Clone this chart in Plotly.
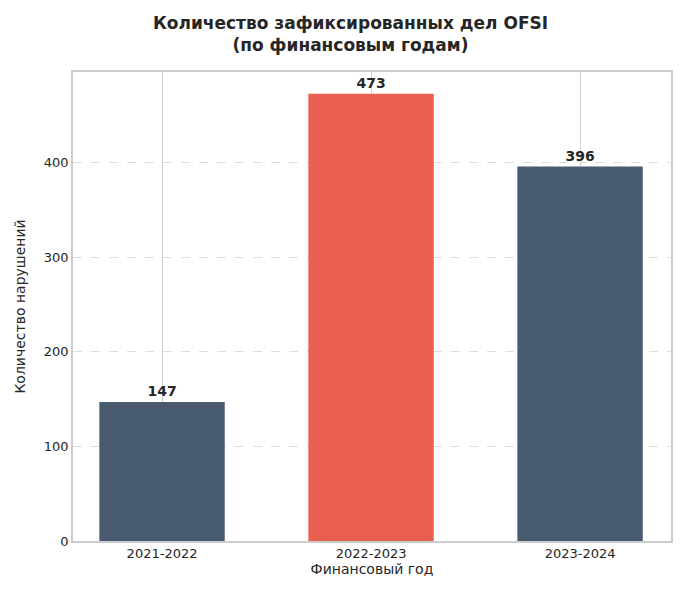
import plotly.graph_objects as go

years = ["2021-2022", "2022-2023", "2023-2024"]
cases = [147, 473, 396]
colors = ["#485b70", "#e95f50", "#485b70"]

fig = go.Figure(go.Bar(
    x=[0, 1, 2], y=cases, width=0.6, marker_color=colors,
    marker_line_width=0,
    text=[f"<b>{v}</b>" for v in cases], textposition="outside",
    textfont=dict(size=14, color="#262626"), cliponaxis=False,
))
fig.update_layout(
    width=685, height=600,
    paper_bgcolor="white", plot_bgcolor="white",
    font=dict(family="DejaVu Sans", color="#262626", size=13),
    title=dict(text="<b>Количество зафиксированных дел OFSI<br>(по финансовым годам)</b>",
               x=0.5, xanchor="center", y=0.965, font=dict(size=17)),
    margin=dict(l=65, r=22, t=64, b=67, autoexpand=False),
    showlegend=False,
)
fig.update_xaxes(range=[-0.426, 2.435], tickvals=[0, 1, 2], ticktext=years,
                 title=dict(text="Финансовый год", standoff=4, font=dict(size=14)),
                 showgrid=True, gridcolor="#d0d0d0", showline=True, linecolor="#cccccc",
                 linewidth=1.5, mirror=True, ticks="", zeroline=False)
fig.update_yaxes(range=[0, 496], tickvals=[0, 100, 200, 300, 400],
                 title=dict(text="Количество нарушений", font=dict(size=14)),
                 showgrid=True, gridcolor="#dddddd", griddash="dash",
                 showline=True, linecolor="#cccccc", linewidth=1.5, mirror=True,
                 zeroline=False, ticks="")
fig.write_html("out.html")
